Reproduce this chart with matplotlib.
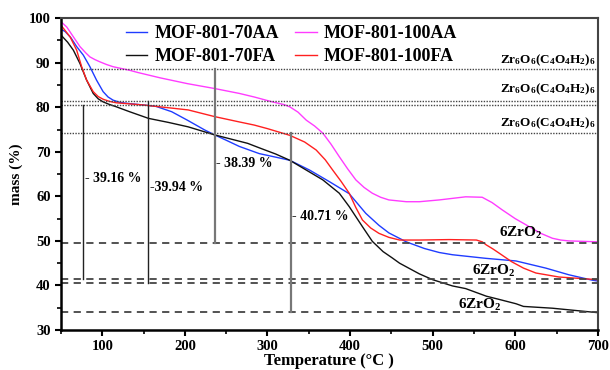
import numpy as np
import matplotlib
matplotlib.use("Agg")
import matplotlib.pyplot as plt
from matplotlib.ticker import MultipleLocator

plt.rcParams["font.family"] = ["Liberation Serif", "DejaVu Serif"]
plt.rcParams["font.weight"] = "bold"
plt.rcParams["mathtext.fontset"] = "custom"
plt.rcParams["mathtext.rm"] = "Liberation Serif:bold"
plt.rcParams["mathtext.bf"] = "Liberation Serif:bold"
plt.rcParams["mathtext.it"] = "Liberation Serif:bold"

# TGA curves
t_70aa = [50, 55, 62, 69, 77, 85, 93, 101, 107, 113, 121, 129, 150, 165, 184, 203, 224, 236, 250, 266,
          290, 310, 327, 351, 375, 399, 419, 435, 447, 468, 490, 508, 524, 564, 601, 637, 665, 693, 700]
m_70aa = [97.5, 97.0, 95.6, 93.6, 91.7, 89.1, 86.1, 83.5, 82.3, 81.6, 81.1, 80.9, 80.5, 80.2, 79.0, 77.1,
          74.9, 73.8, 72.6, 71.2, 69.6, 68.8, 68.1, 65.9, 63.3, 60.6, 56.2, 53.5, 51.8, 49.8, 48.3, 47.4,
          46.9, 46.1, 45.5, 43.9, 42.4, 41.2, 41.0]

t_70fa = [50, 58, 65, 73, 81, 89, 95, 101, 109, 117, 133, 156, 180, 204, 236, 276, 290, 310, 327, 347, 367,
          387, 399, 415, 427, 440, 451, 460, 470, 484, 500, 524, 540, 565, 580, 601, 610, 645, 700]
m_70fa = [96.2, 94.6, 92.8, 89.8, 86.1, 83.1, 81.9, 81.2, 80.6, 80.1, 79.0, 77.5, 76.6, 75.6, 73.8, 71.9,
          70.9, 69.5, 68.1, 65.9, 63.7, 60.7, 57.7, 53.2, 49.9, 47.6, 46.2, 45.0, 44.0, 42.6, 41.3, 39.9,
          39.3, 37.6, 36.9, 35.9, 35.3, 34.9, 33.9]

t_100aa = [50, 57, 65, 73, 80, 85, 91, 97, 105, 113, 123, 133, 143, 170, 203, 236, 266, 284, 306, 320, 327,
           337, 347, 357, 367, 377, 387, 397, 407, 417, 427, 437, 447, 468, 484, 508, 540, 560, 572, 584,
           600, 617, 631, 645, 655, 665, 700]
m_100aa = [99.2, 98.0, 95.8, 93.6, 92.2, 91.3, 90.7, 90.2, 89.6, 89.1, 88.7, 88.3, 87.8, 86.6, 85.3, 84.2,
           83.1, 82.3, 81.2, 80.6, 80.1, 78.9, 77.1, 75.8, 74.2, 71.7, 68.9, 66.2, 63.7, 62.0, 60.7, 59.8,
           59.2, 58.8, 58.8, 59.2, 59.9, 59.8, 58.6, 57.0, 55.0, 53.2, 51.7, 50.6, 50.2, 50.0, 49.8]

t_100fa = [50, 61, 69, 75, 81, 89, 95, 101, 109, 117, 150, 204, 236, 266, 284, 300, 327, 345, 359, 370,
           379, 389, 399, 407, 415, 425, 435, 447, 460, 484, 520, 553, 560, 565, 573, 581, 596, 610, 625,
           653, 700]
m_100fa = [98.4, 95.8, 92.8, 89.1, 86.1, 83.5, 82.4, 81.8, 81.3, 81.0, 80.5, 79.4, 77.9, 76.7, 76.0, 75.2,
           73.7, 72.2, 70.4, 68.2, 65.9, 63.4, 60.7, 57.5, 54.7, 52.9, 51.7, 50.8, 50.2, 50.2, 50.3, 50.2,
           49.8, 49.1, 48.2, 47.2, 45.3, 43.9, 42.8, 41.9, 41.3]

labels = ["MOF-801-70AA", "MOF-801-70FA", "MOF-801-100AA", "MOF-801-100FA"]
colors = ["#1f3cff", "#111111", "#ff3cff", "#ff2020"]

# reference levels
mof_levels = [88.5, 81.45, 80.6, 74.3]
zro2_levels = [49.5, 41.4, 40.55, 34.0]

# loss markers: x, top, bottom, label
loss_x = [77, 155.6, 236, 328]
loss_top = [80.6, 81.45, 88.5, 74.3]
loss_bot = [41.4, 40.55, 49.5, 34.0]
loss_text = ["- 39.16 %", "-39.94 %", "- 38.39 %", "- 40.71 %"]
loss_text_y = [64.1, 62.1, 67.4, 55.4]

fig = plt.figure(figsize=(6.1, 3.7), dpi=100)
ax = fig.add_axes([0.1, 0.108, 0.88, 0.843])

for t, m, lab, c in zip([t_70aa, t_70fa, t_100aa, t_100fa], [m_70aa, m_70fa, m_100aa, m_100fa], labels, colors):
    ax.plot(t, m, color=c, lw=1.0, label=lab)

for y in mof_levels:
    ax.axhline(y, color="#444444", ls=(0, (1, 1)), lw=1.0)
for y in zro2_levels:
    ax.axhline(y, color="#444444", ls=(0, (4, 3)), lw=1.3)

for i, (x, y0, y1, txt, ty) in enumerate(zip(loss_x, loss_top, loss_bot, loss_text, loss_text_y)):
    if i < 2:
        ax.plot([x, x], [y1, y0], color="#222222", lw=1.0)
    else:
        ax.plot([x, x], [y1, y0], color="#777777", lw=1.6)
    ax.text(x + 2, ty, txt, fontsize=10, fontweight="bold", va="center", ha="left")

mof_label = r"$\mathrm{Zr_6O_6(C_4O_4H_2)_6}$"
for y in [90.6, 84.0, 76.4]:
    ax.text(697, y, mof_label, fontsize=9.5, ha="right", va="center")

zro2_label = r"$\mathrm{6ZrO_2}$"
for x, y in zip([580, 548, 531], [51.8, 43.2, 35.6]):
    ax.text(x, y, zro2_label, fontsize=11, ha="left", va="center")

ax.set_xlim(50, 700)
ax.set_ylim(30, 100)
ax.xaxis.set_major_locator(MultipleLocator(100))
ax.xaxis.set_minor_locator(MultipleLocator(50))
ax.yaxis.set_major_locator(MultipleLocator(10))
ax.yaxis.set_minor_locator(MultipleLocator(5))
ax.tick_params(which="major", direction="out", length=4, width=1.5, labelsize=10.5)
ax.tick_params(which="minor", direction="out", length=3, width=1.2)
for lab in ax.get_xticklabels() + ax.get_yticklabels():
    lab.set_fontweight("bold")

for s in ["left", "bottom"]:
    ax.spines[s].set_linewidth(1.8)
    ax.spines[s].set_color("black")
for s in ["top", "right"]:
    ax.spines[s].set_linewidth(1.5)
    ax.spines[s].set_color("#444444")

ax.set_xlabel("Temperature (°C )", fontsize=12, fontweight="bold", labelpad=0)
ax.set_ylabel("mass (%)", fontsize=11, fontweight="bold", labelpad=4)

ax.legend(ncol=2, frameon=False, loc="upper left", bbox_to_anchor=(0.09, 1.03),
          prop={"family": "Liberation Serif", "weight": "bold", "size": 13},
          handlelength=1.2, handletextpad=0.4, columnspacing=0.9, labelspacing=0.35)

fig.savefig("out.png", dpi=100)
